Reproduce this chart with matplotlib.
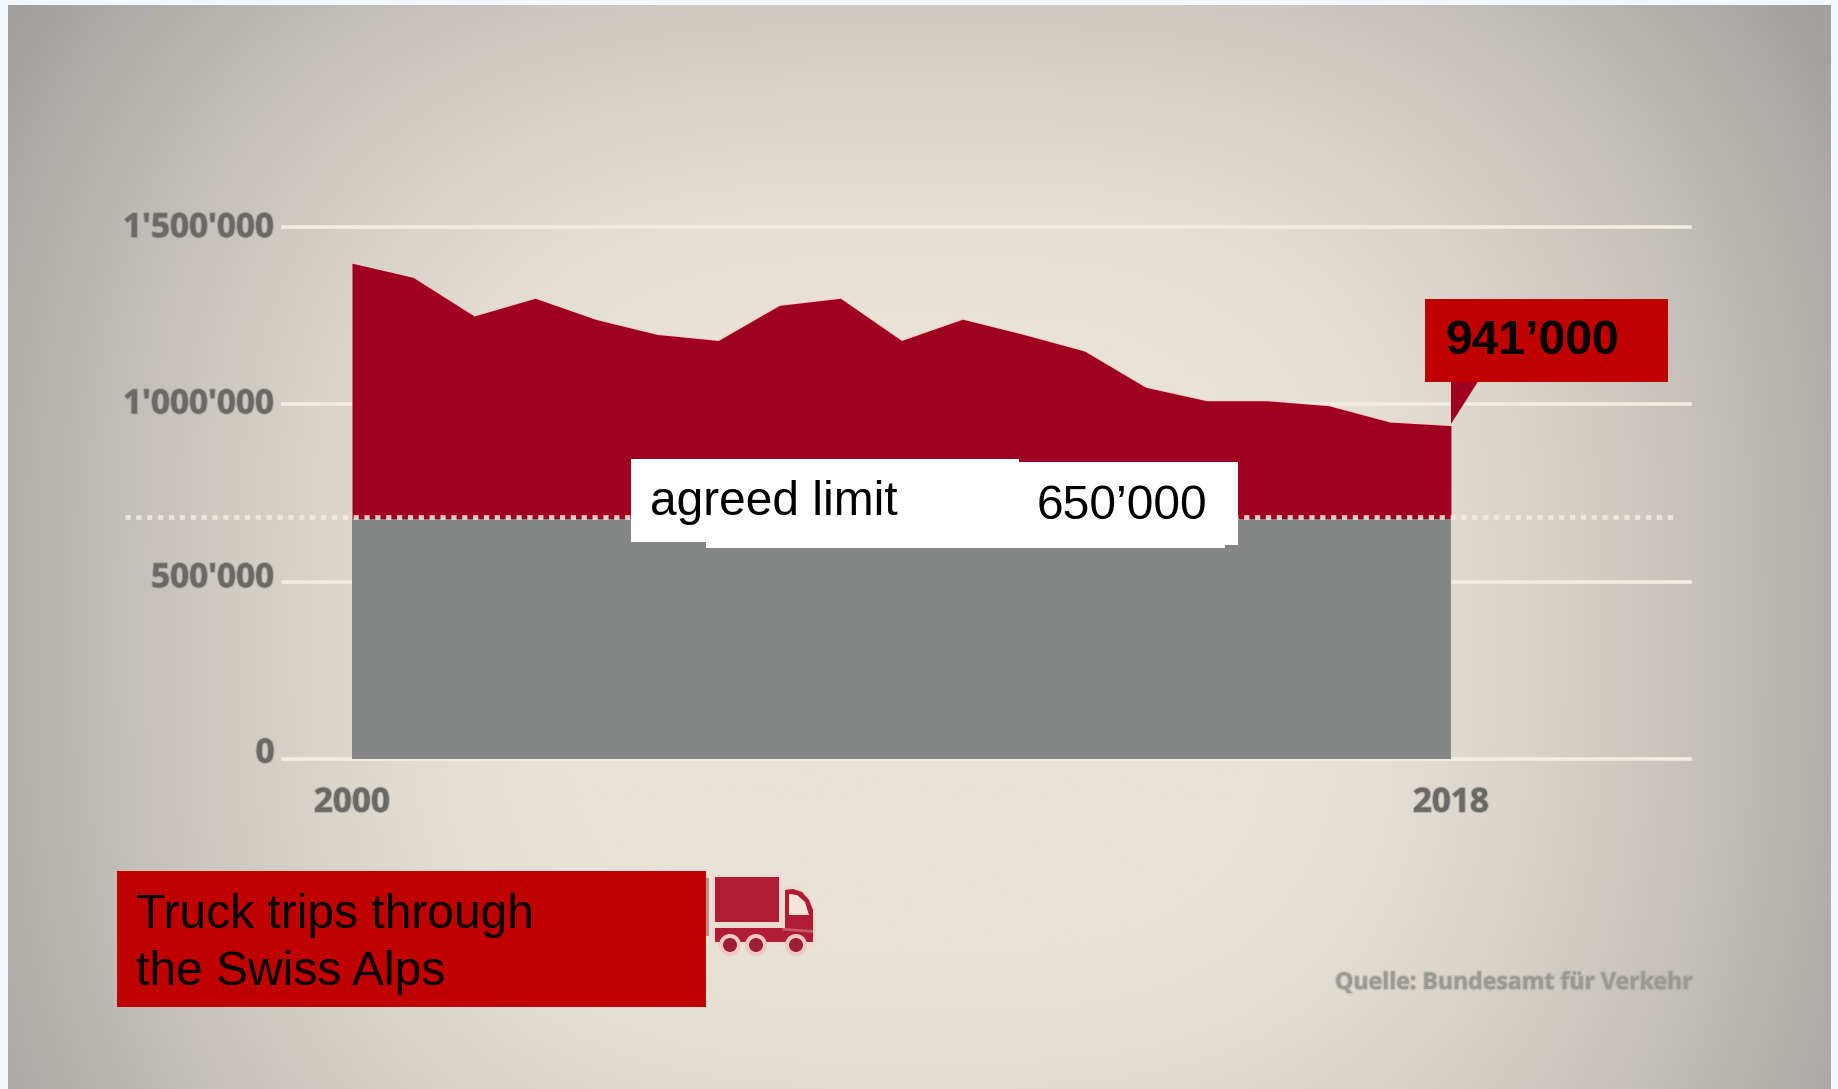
# Truck trips through the Swiss Alps - area chart on a vignette background
import numpy as np
import matplotlib
matplotlib.use('Agg')
import matplotlib.pyplot as plt
import matplotlib.patheffects as pe
from matplotlib.patches import Rectangle, Polygon, Circle
from matplotlib.transforms import ScaledTranslation

W, H = 1838, 1089

years = list(range(2000, 2019))
trips = [1398000, 1358000, 1249000, 1299000, 1239000, 1197000, 1180000, 1279000, 1299000, 1180000,
         1240000, 1197000, 1150000, 1048000, 1010000, 1010000, 996000, 950000, 940000]
limit_drawn = 681000
gray_top = 676000
y_ticks = [0, 500000, 1000000, 1500000]
y_labels = ['0', "500'000", "1'000'000", "1'500'000"]
x_ticks = [2000, 2018]
x_labels = ['2000', '2018']

title_lines = ['Truck trips through', 'the Swiss Alps']
limit_label = 'agreed limit'
limit_value = '650\u2019000'
last_value = '941\u2019000'
source = 'Quelle: Bundesamt f\u00fcr Verkehr'

RED = '#a00020'
BOX_RED = '#c00000'
GRAY = '#858786'
LINE = '#f2ede2'
TICK = '#6b6966'

fig = plt.figure(figsize=(W / 100, H / 100), dpi=100, facecolor='#f2f8fe')

# background vignette, inside the light margin of the screenshot
bg = fig.add_axes([8 / W, 0, (1831 - 8) / W, 1 - 5 / H])
bg.set_axis_off()
xx, yy = np.meshgrid(np.linspace(-1, 1, 500), np.linspace(-1, 1, 300))
yc = yy - 0.16
r = (np.abs(xx) ** 3 + (np.abs(yc) / 1.5) ** 3) ** (1 / 3)
t = np.clip((r - 0.4) / 0.72, 0, 1) ** 1.5
c0 = np.array([0xe9, 0xe2, 0xd7]) / 255
c1 = np.array([0xa2, 0xa0, 0x9e]) / 255
img = c0[None, None, :] * (1 - t[..., None]) + c1[None, None, :] * t[..., None]
bg.imshow(img, aspect='auto', interpolation='bilinear', origin='upper')

# main chart, position given in pixels so the gridlines span the axes
left, right, y0, y15 = 283, 1690, 759, 227
ax = fig.add_axes([left / W, 1 - y0 / H, (right - left) / W, (y0 - y15) / H])
ax.patch.set_alpha(0)
ax.set_xlim(2000 + (left - 352) / 61.05, 2000 + (right - 352) / 61.05)
ax.set_ylim(0, 1500000)
for s in ax.spines.values():
    s.set_visible(False)
ax.set_yticks(y_ticks, y_labels)
ax.set_xticks(x_ticks, x_labels)
ax.tick_params(axis='y', length=0, pad=6)
ax.tick_params(axis='x', length=0, pad=20)
for lab in ax.get_yticklabels() + ax.get_xticklabels():
    lab.set(family='Open Sans', weight='bold', fontsize=24, color=TICK)
    lab.set_path_effects([pe.withStroke(linewidth=1.6, foreground=TICK, alpha=0.35)])
# the y labels sit a little above their gridlines, more so lower down
for lab, up in zip(ax.get_yticklabels(), [9, 7, 3.5, 2.5]):
    lab.set_transform(lab.get_transform() + ScaledTranslation(0, up / 100, fig.dpi_scale_trans))
ax.yaxis.grid(True, color=LINE, lw=2.6, clip_on=False)
ax.set_axisbelow(True)

ax.fill_between(years, gray_top, trips, color=RED, lw=0, zorder=2)
ax.plot(years, trips, color='#f5c9c4', lw=1, alpha=0.7, zorder=1.9)
ax.fill_between(years, 0, gray_top, color=GRAY, lw=0, zorder=2)
ax.plot([2000 + (125 - 352) / 61.05, 2000 + (1674 - 352) / 61.05], [limit_drawn, limit_drawn],
        color=LINE, lw=3.4, ls=(0, (1.1, 1.2)), alpha=0.85, zorder=3, clip_on=False)

# overlay in pixel coordinates for the pasted boxes and the truck icon
ov = fig.add_axes([0, 0, 1, 1])
ov.set_xlim(0, W)
ov.set_ylim(H, 0)
ov.set_axis_off()
ov.patch.set_alpha(0)

ov.add_patch(Polygon([(1451, 380), (1451, 424), (1479, 380)], fc=RED, ec='none'))
ov.add_patch(Rectangle((1425, 299), 243, 83, fc=BOX_RED, ec='none'))
ov.text(1445, 342, last_value, family='Liberation Sans', weight='bold', fontsize=34.6,
        va='center', ha='left', color='black')

ov.add_patch(Rectangle((706, 540), 519, 8, fc='white', ec='none'))
ov.add_patch(Rectangle((631, 459), 388, 83, fc='white', ec='none'))
ov.add_patch(Rectangle((1019, 462), 219, 83, fc='white', ec='none'))
ov.text(650, 502.5, limit_label, family='Liberation Sans', fontsize=34.5, va='center', ha='left', color='black')
ov.text(1037, 506.5, limit_value, family='Liberation Sans', fontsize=34.6, va='center', ha='left', color='black')

ov.add_patch(Rectangle((117, 871), 589, 136, fc=BOX_RED, ec='none'))
ov.text(136, 928, title_lines[0], family='Liberation Sans', fontsize=34.5, va='baseline', ha='left', color='black')
ov.text(136, 985, title_lines[1], family='Liberation Sans', fontsize=34.5, va='baseline', ha='left', color='black')

# truck
TRUCK = '#b01c34'
halo = [pe.withStroke(linewidth=4, foreground='#f4c9c2', alpha=0.35)]
ov.add_patch(Rectangle((706, 878), 3, 58, fc='#c98a88', ec='none'))
ov.add_patch(Rectangle((715, 877), 64, 45, fc=TRUCK, ec='none', path_effects=halo))
ov.add_patch(Rectangle((715, 928), 98, 14, fc=TRUCK, ec='none', path_effects=halo))
ov.add_patch(Polygon([(785, 928), (785, 890), (793, 889), (802, 892), (809, 900), (813, 910), (813, 930)],
                     fc=TRUCK, ec='none', path_effects=halo))
ov.add_patch(Polygon([(789, 915), (789, 894), (797, 895), (805, 902), (809, 915)], fc='#f6e3da', ec='none'))
for cx in [730, 756, 796]:
    ov.add_patch(Circle((cx, 945), 11, fc='#f3c8c2', ec='none'))
    ov.add_patch(Circle((cx, 945), 7, fc='#9c2038', ec='none'))

ov.text(1692, 983, source, family='Open Sans', weight='bold', fontsize=16.6, ha='right', va='center',
        color='#9b9993', path_effects=[pe.withStroke(linewidth=2, foreground='#9b9993', alpha=0.3)])

fig.savefig('out.png', dpi=100)
